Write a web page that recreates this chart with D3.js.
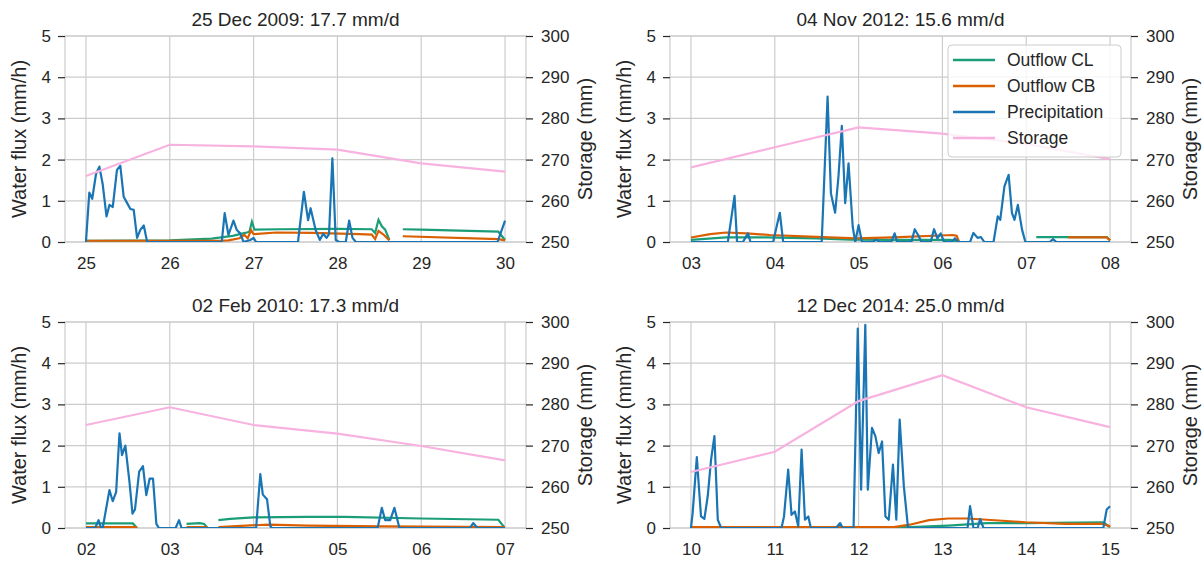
<!DOCTYPE html>
<html>
<head>
<meta charset="utf-8">
<script src="https://cdn.jsdelivr.net/npm/d3@7"></script>
<style>
body { margin: 0; background: #fff; }
svg text { font-family: "Liberation Sans", Arial, sans-serif; fill: #262626; }
</style>
</head>
<body>
<svg id="vis" width="1204" height="562"></svg>
<script>
// ---- data ----
// every series point is [days since first tick, value]; null = gap in the record
const titles = ['25 Dec 2009: 17.7 mm/d', '04 Nov 2012: 15.6 mm/d', '02 Feb 2010: 17.3 mm/d', '12 Dec 2014: 25.0 mm/d']
const seriesNames = ['Outflow CL', 'Outflow CB', 'Precipitation', 'Storage']
const fluxTicks = [0, 1, 2, 3, 4, 5]
const storageTicks = [250, 260, 270, 280, 290, 300]

const days1 = ['25', '26', '27', '28', '29', '30']
const days2 = ['03', '04', '05', '06', '07', '08']
const days3 = ['02', '03', '04', '05', '06', '07']
const days4 = ['10', '11', '12', '13', '14', '15']

const precip1 = [[0,0],[0.04,1.2],[0.075,1.05],[0.12,1.65],[0.16,1.83],[0.2,1.4],[0.245,0.62],[0.28,0.9],[0.32,0.85],[0.37,1.75],[0.41,1.85],[0.45,1.1],[0.49,0.95],[0.53,0.8],[0.57,0.78],[0.61,0.1],[0.65,0.3],[0.69,0.4],[0.73,0],
  [1.62,0],[1.655,0.7],[1.7,0.17],[1.76,0.52],[1.8,0.29],[1.84,0.21],[1.88,0],[1.96,0.05],[2.0,0.1],[2.03,0],
  [2.53,0],[2.6,1.22],[2.65,0.53],[2.68,0.82],[2.74,0.29],[2.79,0.05],[2.83,0.2],[2.87,0.1],[2.9,0.19],[2.94,2.03],[2.98,0.05],[3.02,0],
  [3.1,0],[3.14,0.52],[3.18,0.1],[3.22,0],[4.91,0],[5.0,0.52]]
const outCL1 = [[0,0.03],[1.0,0.04],[1.5,0.08],[1.75,0.15],[1.9,0.22],[1.95,0.25],[1.98,0.49],[2.01,0.3],[2.3,0.31],[3.0,0.32],[3.41,0.31],[3.45,0.22],[3.49,0.54],[3.53,0.38],[3.57,0.3],[3.62,0.05],null,[3.78,0.31],[4.0,0.3],[4.92,0.25],[5.0,0.05]]
const outCB1 = [[0,0.03],[1.6,0.03],[1.7,0.04],[1.83,0.09],[1.89,0.17],[1.93,0.09],[1.97,0.29],[2.0,0.19],[2.27,0.23],[2.7,0.22],[3.26,0.19],[3.41,0.18],[3.45,0.07],[3.49,0.27],[3.55,0.18],[3.62,0.04],null,[3.78,0.14],[4.92,0.07],[5.0,0.04]]
const storage1 = [266.0, 273.6, 273.2, 272.4, 269.1, 267.1]

const precip2 = [[0,0],[0.44,0],[0.52,1.12],[0.55,0],[0.62,0],[0.68,0.21],[0.71,0],[0.98,0],[1.06,0.71],[1.1,0],[1.56,0],[1.63,3.53],[1.67,1.18],[1.72,0.71],[1.76,1.59],[1.8,2.82],[1.84,0.94],[1.88,1.91],[1.93,0.37],[1.96,0],[2.0,0.41],[2.04,0],
  [2.17,0],[2.21,0.06],[2.25,0],[2.39,0],[2.43,0.21],[2.46,0],[2.63,0],[2.67,0.31],[2.71,0.17],[2.75,0],[2.86,0],[2.9,0.31],[2.94,0.09],[2.98,0.21],[3.02,0],[3.11,0],[3.15,0.09],[3.19,0],
  [3.33,0],[3.37,0.22],[3.42,0.1],[3.46,0.12],[3.5,0],[3.61,0],[3.66,0.62],[3.69,0.54],[3.74,1.35],[3.79,1.63],[3.83,0.7],[3.86,0.54],[3.9,0.9],[3.95,0.3],[3.99,0],[4.28,0],[4.32,0.07],[4.36,0],[5.0,0]]
const outCL2 = [[0,0.05],[0.42,0.11],[0.9,0.11],[1.5,0.09],[1.9,0.06],[2.4,0.05],[3.1,0.05],[3.2,0],null,[4.12,0.12],[4.96,0.12],[5.0,0.04]]
const outCB2 = [[0,0.11],[0.23,0.19],[0.42,0.23],[0.66,0.21],[0.94,0.17],[1.42,0.13],[1.97,0.09],[2.41,0.11],[3.12,0.17],[3.17,0.15],[3.2,0],null,[4.5,0.11],[4.96,0.11],[5.0,0.04]]
const storage2 = [268.1, 273.0, 277.8, 276.3, 273.8, 270.1]

const precip3 = [[0,0],[0.11,0],[0.15,0.19],[0.18,0],[0.2,0],[0.28,0.92],[0.32,0.65],[0.36,0.87],[0.4,2.3],[0.43,1.77],[0.47,2.0],[0.52,1.1],[0.555,0.35],[0.585,0.45],[0.635,1.37],[0.68,1.5],[0.72,0.8],[0.76,1.2],[0.8,1.2],[0.84,0.1],[0.87,0],
  [1.07,0],[1.11,0.19],[1.14,0],[2.03,0],[2.08,1.31],[2.11,0.81],[2.16,0.7],[2.2,0.04],[2.22,0],[3.48,0],[3.53,0.49],[3.57,0.19],[3.63,0.19],[3.68,0.49],[3.74,0],[4.58,0],[4.62,0.12],[4.67,0],[5.0,0]]
const outCL3 = [[0,0.11],[0.56,0.11],[0.61,0],null,[1.2,0.1],[1.36,0.12],[1.41,0.1],[1.45,0],null,[1.58,0.19],[1.72,0.22],[2.0,0.26],[2.64,0.27],[3.09,0.27],[4.0,0.23],[4.92,0.2],[4.99,0.02]]
const outCB3 = [[0,0.02],[0.61,0.02],null,[1.2,0.02],[1.45,0.02],null,[1.58,0.02],[1.91,0.06],[2.18,0.08],[2.64,0.06],[3.55,0.04],[5.0,0.02]]
const storage3 = [275.0, 279.3, 275.0, 272.9, 269.9, 266.4]

const precip4 = [[0,0],[0.02,0.36],[0.07,1.72],[0.1,0.85],[0.12,0.28],[0.16,0.22],[0.2,0.77],[0.24,1.66],[0.28,2.23],[0.32,0.2],[0.36,0],
  [1.08,0],[1.11,0.28],[1.16,1.42],[1.2,0.32],[1.24,0.4],[1.28,0.04],[1.32,1.9],[1.36,0.2],[1.4,0.28],[1.43,0],[1.73,0],[1.78,0.12],[1.81,0],
  [1.94,0],[1.99,4.84],[2.03,0.93],[2.08,4.93],[2.11,0.93],[2.16,2.43],[2.2,2.23],[2.24,1.82],[2.28,2.1],[2.32,0.28],[2.36,0.2],[2.41,1.54],[2.45,0.2],[2.49,2.63],[2.54,1.01],[2.59,0],
  [3.3,0],[3.33,0.53],[3.37,0],[3.42,0],[3.45,0.22],[3.49,0],[4.92,0],[4.96,0.45],[5.0,0.53]]
const outCL4 = [[0,0.02],[2.61,0.02],[3.07,0.06],[3.53,0.12],[3.99,0.12],[4.92,0.14],[5.0,0.02]]
const outCB4 = [[0,0.02],[2.42,0.02],[2.61,0.08],[2.84,0.19],[3.07,0.23],[3.3,0.23],[3.53,0.2],[3.99,0.14],[4.46,0.1],[4.92,0.1],[5.0,0.04]]
const storage4 = [263.6, 268.5, 280.8, 287.1, 279.3, 274.5]

const panels = [
  {title: titles[0], days: days1, precip: precip1, cl: outCL1, cb: outCB1, storage: storage1},
  {title: titles[1], days: days2, precip: precip2, cl: outCL2, cb: outCB2, storage: storage2},
  {title: titles[2], days: days3, precip: precip3, cl: outCL3, cb: outCB3, storage: storage3},
  {title: titles[3], days: days4, precip: precip4, cl: outCL4, cb: outCB4, storage: storage4}
]

// ---- layout / style ----
const colors = {cl: '#1b9e77', cb: '#d95f02', precip: '#1a75b4', storage: '#f8b2e0'}
const origins = [[65, 36], [670, 36], [65, 322], [670, 322]]
const w = 461, h = 206

const svg = d3.select('#vis')

panels.forEach((p, i) => {
    const g = svg.append('g')
        .attr('transform', 'translate(' + origins[i][0] + ',' + origins[i][1] + ')')

    const x = d3.scaleLinear().domain([-0.25, 5.25]).range([0, w])
    const y = d3.scaleLinear().domain([0, 5]).range([h, 0])
    const y2 = d3.scaleLinear().domain([250, 300]).range([h, 0])
    const dayPos = p.days.map((d, j) => j)

    //grid
    g.selectAll('.hgrid').data(fluxTicks).join('line')
        .attr('x1', 0).attr('x2', w)
        .attr('y1', d => y(d)).attr('y2', d => y(d))
        .attr('stroke', '#cccccc').attr('stroke-width', 1.2)
    g.selectAll('.vgrid').data(dayPos).join('line')
        .attr('x1', d => x(d)).attr('x2', d => x(d))
        .attr('y1', 0).attr('y2', h)
        .attr('stroke', '#cccccc').attr('stroke-width', 1.2)
    g.append('rect')
        .attr('width', w).attr('height', h)
        .attr('fill', 'none').attr('stroke', '#cccccc').attr('stroke-width', 1.2)

    //axes
    const left = g.append('g')
        .call(d3.axisLeft(y).tickValues(fluxTicks).tickFormat(d3.format('d')).tickSize(7).tickPadding(7))
    const right = g.append('g')
        .attr('transform', 'translate(' + w + ',0)')
        .call(d3.axisRight(y2).tickValues(storageTicks).tickFormat(d3.format('d')).tickSize(7).tickPadding(8))
    const bottom = g.append('g')
        .attr('transform', 'translate(0,' + h + ')')
        .call(d3.axisBottom(x).tickValues(dayPos).tickFormat(d => p.days[d]).tickSize(0).tickPadding(15))
    ;[left, right, bottom].forEach(a => {
        a.select('.domain').remove()
        a.selectAll('line').attr('stroke', '#262626').attr('stroke-width', 1.2)
        a.selectAll('text').style('font-size', '17px').attr('fill', '#262626')
    })

    //labels
    g.append('text')
        .attr('x', w / 2).attr('y', -10)
        .attr('text-anchor', 'middle')
        .style('font-size', '19px')
        .text(p.title)
    g.append('text')
        .attr('transform', 'translate(-46,' + (h / 2) + ') rotate(-90)')
        .attr('text-anchor', 'middle').attr('dy', '0.35em')
        .style('font-size', '20px')
        .text('Water flux (mm/h)')
    g.append('text')
        .attr('transform', 'translate(' + (w + 59) + ',' + (h / 2) + ') rotate(-90)')
        .attr('text-anchor', 'middle').attr('dy', '0.35em')
        .style('font-size', '20px')
        .text('Storage (mm)')

    //lines
    g.append('clipPath').attr('id', 'clip' + i)
        .append('rect').attr('width', w).attr('height', h)
    const plot = g.append('g').attr('clip-path', 'url(#clip' + i + ')')

    const line = d3.line()
        .defined(d => d !== null)
        .x(d => x(d[0]))
        .y(d => y(d[1]))

    plot.append('path').datum(p.cl)
        .attr('d', line).attr('fill', 'none')
        .attr('stroke', colors.cl).attr('stroke-width', 2.2)
    plot.append('path').datum(p.cb)
        .attr('d', line).attr('fill', 'none')
        .attr('stroke', colors.cb).attr('stroke-width', 2.2)
    plot.append('path').datum(p.precip)
        .attr('d', line).attr('fill', 'none')
        .attr('stroke', colors.precip).attr('stroke-width', 2.2)
        .attr('stroke-linejoin', 'round')

    const storeLine = d3.line()
        .x((d, j) => x(j))
        .y(d => y2(d))
    plot.append('path').datum(p.storage)
        .attr('d', storeLine).attr('fill', 'none')
        .attr('stroke', colors.storage).attr('stroke-width', 2.2)

    //legend only on the second panel
    if (i === 1) {
        const lg = g.append('g').attr('transform', 'translate(278,9)')
        lg.append('rect')
            .attr('width', 173).attr('height', 112).attr('rx', 4)
            .attr('fill', '#fff').attr('fill-opacity', 0.8)
            .attr('stroke', '#cccccc').attr('stroke-width', 1)
        const keys = ['cl', 'cb', 'precip', 'storage']
        const row = lg.selectAll('.item').data(seriesNames).join('g')
            .attr('transform', (d, j) => 'translate(0,' + (15 + j * 26) + ')')
        row.append('line')
            .attr('x1', 5).attr('x2', 47)
            .attr('stroke', (d, j) => colors[keys[j]]).attr('stroke-width', 2.5)
        row.append('text')
            .attr('x', 59).attr('dy', '0.35em')
            .style('font-size', '17.5px')
            .text(d => d)
    }
})
</script>
</body>
</html>
